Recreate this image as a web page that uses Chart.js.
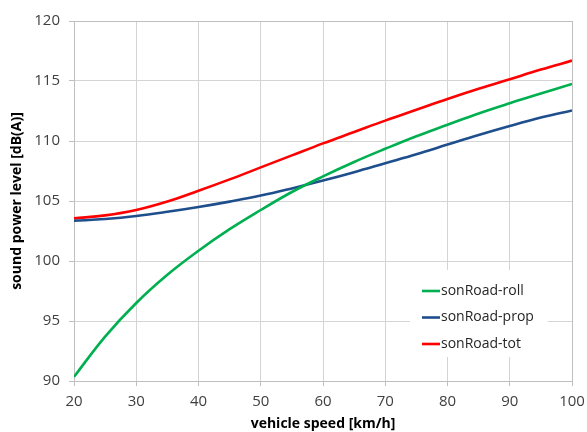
<!DOCTYPE html>
<html>
<head>
<meta charset="utf-8">
<script src="https://cdn.jsdelivr.net/npm/chart.js@4.4.0/dist/chart.umd.min.js"></script>
<style>
  html, body { margin: 0; padding: 0; background: #fff; }
  #wrap { width: 587px; height: 432px; }
</style>
</head>
<body>
<div id="wrap"><canvas id="soundChart" width="587" height="432"></canvas></div>
<script>
// vehicle speed [km/h]
const speeds = [20, 25, 30, 35, 40, 45, 50, 55, 60, 65, 70, 75, 80, 85, 90, 95, 100];
// sound power level [dB(A)]
const rollValues = [90.35, 93.7, 96.5, 98.85, 100.85, 102.65, 104.25, 105.75, 107.05, 108.25, 109.35, 110.4, 111.35, 112.3, 113.15, 113.95, 114.75];
const propValues = [103.35, 103.5, 103.75, 104.1, 104.5, 104.95, 105.45, 106.05, 106.7, 107.4, 108.15, 108.9, 109.7, 110.5, 111.25, 111.95, 112.55];
const totValues = [103.55, 103.8, 104.25, 104.95, 105.85, 106.8, 107.8, 108.8, 109.8, 110.75, 111.7, 112.6, 113.5, 114.35, 115.15, 115.95, 116.7];
const seriesNames = ["sonRoad-roll", "sonRoad-prop", "sonRoad-tot"];
const seriesColors = ["#00b050", "#1f4e8c", "#ff0000"];

const FONT = "'Open Sans', 'DejaVu Sans', sans-serif";

function toPoints(values) {
    return speeds.map((s, i) => ({ x: s, y: values[i] }));
}

const allValues = [rollValues, propValues, totValues];
const datasets = allValues.map((vals, i) => ({
    label: seriesNames[i],
    data: toPoints(vals),
    borderColor: seriesColors[i],
    backgroundColor: seriesColors[i],
    borderWidth: 2.6,
    pointRadius: 0,
    tension: 0.4,
    fill: false,
}));

// frame round the plot area
const plotFrame = {
    id: "plotFrame",
    beforeDatasetsDraw(chart) {
        const a = chart.chartArea;
        const ctx = chart.ctx;
        ctx.save();
        ctx.strokeStyle = "#bfbfbf";
        ctx.lineWidth = 1;
        ctx.strokeRect(a.left + 0.5, a.top + 0.5, a.right - a.left, a.bottom - a.top);
        ctx.restore();
    },
};

// legend drawn inside the plot, on a white patch
const insideLegend = {
    id: "insideLegend",
    afterDatasetsDraw(chart) {
        const ctx = chart.ctx;
        ctx.save();
        ctx.fillStyle = "#ffffff";
        ctx.fillRect(410, 270, 138, 87);
        ctx.font = "14px " + FONT;
        ctx.textBaseline = "middle";
        ctx.textAlign = "left";
        const rowY = [291, 317.5, 344];
        chart.data.datasets.forEach((ds, i) => {
            ctx.strokeStyle = ds.borderColor;
            ctx.lineWidth = 2.6;
            ctx.beginPath();
            ctx.moveTo(422, rowY[i]);
            ctx.lineTo(440, rowY[i]);
            ctx.stroke();
            ctx.fillStyle = "#262626";
            ctx.fillText(ds.label, 441, rowY[i]);
        });
        ctx.restore();
    },
};

const config = {
    type: "line",
    data: { datasets: datasets },
    options: {
        responsive: false,
        animation: false,
        layout: { padding: { top: 21, right: 15, left: 9, bottom: 0 } },
        plugins: {
            legend: { display: false },
            tooltip: { enabled: false },
        },
        scales: {
            x: {
                type: "linear",
                min: 20,
                max: 100,
                ticks: {
                    stepSize: 10,
                    color: "#404040",
                    font: { family: FONT, size: 15 },
                    padding: 7,
                },
                grid: { color: "#d4d4d4", lineWidth: 1, tickLength: 5, tickColor: "#bfbfbf" },
                border: { color: "#bfbfbf" },
                title: {
                    display: true,
                    text: "vehicle speed [km/h]",
                    color: "#000000",
                    font: { family: FONT, size: 14, weight: "bold" },
                    padding: { top: 0, bottom: 0 },
                },
                afterFit(scale) {
                    scale.height = 51;
                    scale.paddingLeft = 0;
                    scale.paddingRight = 0;
                },
            },
            y: {
                min: 90,
                max: 120,
                ticks: {
                    stepSize: 5,
                    color: "#404040",
                    font: { family: FONT, size: 15 },
                    padding: 9,
                },
                grid: { color: "#d4d4d4", lineWidth: 1, tickLength: 5, tickColor: "#bfbfbf" },
                border: { color: "#bfbfbf" },
                title: {
                    display: true,
                    text: "sound power level [dB(A)]",
                    color: "#000000",
                    font: { family: FONT, size: 14, weight: "bold" },
                    padding: { top: 0, bottom: 0 },
                },
                afterFit(scale) { scale.width = 65; },
            },
        },
    },
    plugins: [plotFrame, insideLegend],
};

const soundChart = new Chart(document.getElementById("soundChart"), config);
</script>
</body>
</html>
